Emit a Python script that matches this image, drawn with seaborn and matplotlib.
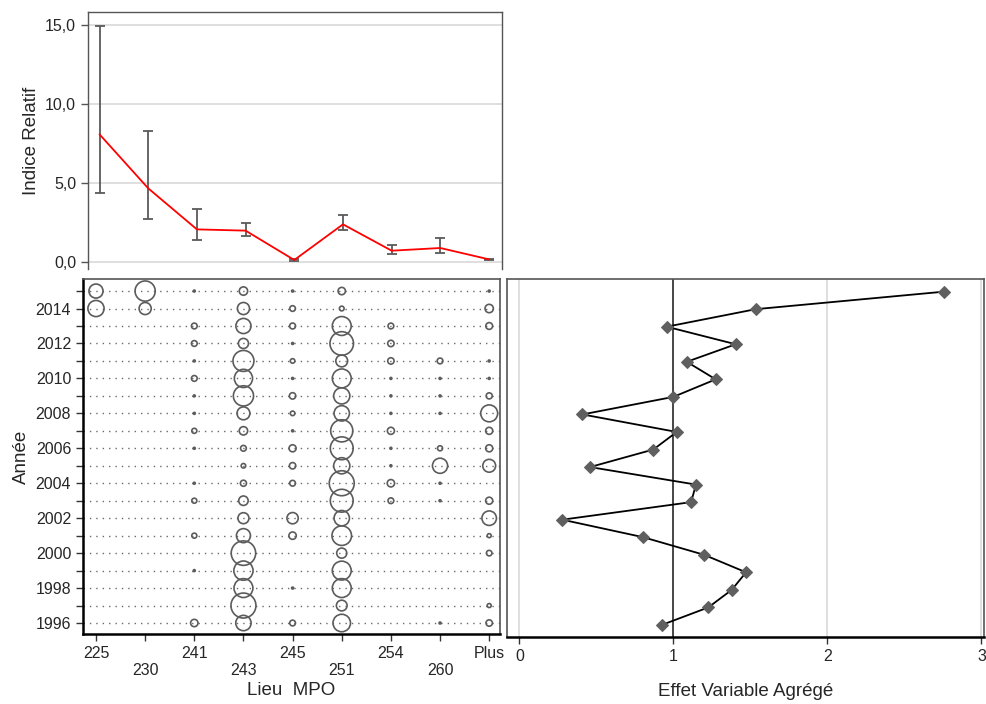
import numpy as np
import pandas as pd
import seaborn as sns
import matplotlib.pyplot as plt

sns.set_style("white")
plt.rcParams['font.family'] = ['Liberation Sans', 'DejaVu Sans']

# Data
locations = ['225', '230', '241', '243', '245', '251', '254', '260', 'Plus']
indice = [8.07, 4.65, 2.05, 1.97, 0.11, 2.37, 0.70, 0.87, 0.15]
indice_low = [4.37, 2.69, 1.36, 1.61, 0.05, 1.99, 0.49, 0.57, 0.09]
indice_high = [14.96, 8.28, 3.36, 2.47, 0.18, 2.94, 1.06, 1.50, 0.20]

years = list(range(2015, 1995, -1))
# relative catch per year (rows) and location (columns), 0 = nothing
catch = [
    [31, 64, 0.6, 11, 0.6, 8.5, 0, 0, 0.6],      # 2015
    [41, 23, 0, 23, 5, 3.5, 0, 0, 11],           # 2014
    [0, 0, 5.2, 36, 5.5, 56, 5.2, 0, 7.2],       # 2013
    [0, 0, 5.2, 16, 0.6, 87, 6.4, 0, 0],         # 2012
    [0, 0, 0.6, 69, 3.2, 22, 6.4, 5.2, 0.6],     # 2011
    [0, 0, 5.2, 52, 0.6, 56, 0.6, 0.6, 0.6],     # 2010
    [0, 0, 0.6, 64, 6.4, 41, 0.6, 0.6, 5.8],     # 2009
    [0, 0, 0.6, 26, 3.2, 37, 0.6, 0.6, 45],      # 2008
    [0, 0, 4, 11, 0.6, 77, 7.8, 0, 7.8],         # 2007
    [0, 0, 0.6, 5.2, 7.8, 82, 0.6, 4, 7.8],      # 2006
    [0, 0, 0, 3.2, 6.4, 41, 0.6, 36, 26],        # 2005
    [0, 0, 0.6, 5.8, 5.2, 98, 8.5, 0.6, 0],      # 2004
    [0, 0, 4, 14, 0, 82, 5.2, 0.6, 7.8],         # 2003
    [0, 0, 0, 19, 20, 37, 0, 0, 33],             # 2002
    [0, 0, 4, 31, 8.5, 60, 0, 0, 2.5],           # 2001
    [0, 0, 0, 94, 0, 16, 0, 0, 4.8],             # 2000
    [0, 0, 0.6, 58, 0, 56, 0, 0, 0],             # 1999
    [0, 0, 0, 56, 0.6, 56, 0, 0, 0],             # 1998
    [0, 0, 0, 98, 0, 18, 0, 0, 2.5],             # 1997
    [0, 0, 8.5, 37, 5.2, 48, 0, 0.6, 6.4],       # 1996
]
effect = [2.76, 1.535, 0.957, 1.405, 1.087, 1.275, 1.0, 0.41, 1.022, 0.87,
          0.459, 1.147, 1.115, 0.279, 0.805, 1.199, 1.472, 1.379, 1.227, 0.925]

def fr(v):
    return '{:.1f}'.format(v).replace('.', ',')

edge = '#555555'
fig = plt.figure(figsize=(9.86, 7.04), dpi=100)
ax_top = fig.add_axes([0.0892, 0.6179, 0.4196, 0.3646])
ax_bub = fig.add_axes([0.0842, 0.0994, 0.4229, 0.5043])
ax_eff = fig.add_axes([0.5139, 0.0956, 0.4841, 0.5081])

# ---- top panel: relative index with error bars
pos = np.arange(len(locations))
ind = np.array(indice)
df_top = pd.DataFrame({'pos': pos, 'indice': ind})
ax_top.errorbar(pos, ind, yerr=[ind - np.array(indice_low), np.array(indice_high) - ind],
                fmt='none', ecolor='#5a5a5a', elinewidth=1.3, capsize=3.5, capthick=1.3, zorder=2)
sns.lineplot(data=df_top, x='pos', y='indice', color='red', lw=1.3, ax=ax_top, zorder=3)
ax_top.set_xlim(-0.238, 8.26)
ax_top.set_ylim(-0.46, 15.8)
ax_top.set_xticks([])
ax_top.set_yticks([0, 5, 10, 15])
ax_top.set_yticklabels([fr(v) for v in [0, 5, 10, 15]])
ax_top.set_axisbelow(True)
ax_top.yaxis.grid(True, color='#dcdcdc', lw=1.3)
ax_top.set_xlabel('')
ax_top.set_ylabel('Indice Relatif', fontsize=13.5)
ax_top.spines['bottom'].set_visible(False)
for s in ['left', 'top', 'right']:
    ax_top.spines[s].set_color(edge)
    ax_top.spines[s].set_linewidth(1)
ax_top.tick_params(axis='y', left=True, length=5, width=1, color=edge, labelsize=11.5)

# ---- bubble panel
df_b = pd.DataFrame(catch, index=years, columns=locations).stack().reset_index()
df_b.columns = ['year', 'loc', 'val']
df_b['pos'] = df_b['loc'].map({l: i for i, l in enumerate(locations)})
for y in years:
    ax_bub.axhline(y, color='#6a6a6a', lw=1.0, ls=(0, (1, 3.6)), zorder=1)
sns.scatterplot(data=df_b[df_b.val > 0], x='pos', y='year', size='val', sizes=(0, 330),
                size_norm=(0, 100), facecolor='none', edgecolor='#5c5c5c', linewidth=1.2,
                legend=False, ax=ax_bub, zorder=3)
ax_bub.set_xlim(-0.264, 8.22)
ax_bub.set_ylim(1995.37, 2015.69)
ax_bub.set_xticks(pos)
ax_bub.set_xticklabels([l if i % 2 == 0 else '\n' + l for i, l in enumerate(locations)])
ax_bub.set_yticks(years)
ax_bub.set_yticklabels([str(y) if y % 2 == 0 else '' for y in years])
ax_bub.set_xlabel('Lieu  MPO', fontsize=13.5, labelpad=3)
ax_bub.set_ylabel('Année', fontsize=13.5)
for s in ['left', 'bottom']:
    ax_bub.spines[s].set_color('black')
    ax_bub.spines[s].set_linewidth(1.8)
for s in ['top', 'right']:
    ax_bub.spines[s].set_color(edge)
    ax_bub.spines[s].set_linewidth(1.2)
ax_bub.tick_params(left=True, bottom=True, length=5, width=1, color='#333333', labelsize=11.5)

# ---- effect panel
df_e = pd.DataFrame({'year': years, 'effect': effect})
ax_eff.axvline(1, color='#3c3c3c', lw=1.3, zorder=2)
sns.lineplot(data=df_e, x='effect', y='year', orient='y', color='black', lw=1.3,
             marker='D', markersize=6, markerfacecolor='#5f5f5f', markeredgecolor='#5f5f5f',
             ax=ax_eff, zorder=3)
ax_eff.set_xlim(-0.082, 3.017)
ax_eff.set_ylim(1995.33, 2015.72)
ax_eff.set_xticks([0, 1, 2, 3])
ax_eff.set_yticks([])
ax_eff.set_axisbelow(True)
ax_eff.xaxis.grid(True, color='#dcdcdc', lw=1.3)
ax_eff.set_ylabel('')
ax_eff.set_xlabel('Effet Variable Agrégé', fontsize=13.5, labelpad=14)
ax_eff.spines['bottom'].set_color('black')
ax_eff.spines['bottom'].set_linewidth(1.8)
for s in ['left', 'top', 'right']:
    ax_eff.spines[s].set_color(edge)
    ax_eff.spines[s].set_linewidth(1.2)
ax_eff.tick_params(axis='x', bottom=True, length=5, width=1, color='#333333', labelsize=11.5)

fig.savefig('out.png', dpi=100)
